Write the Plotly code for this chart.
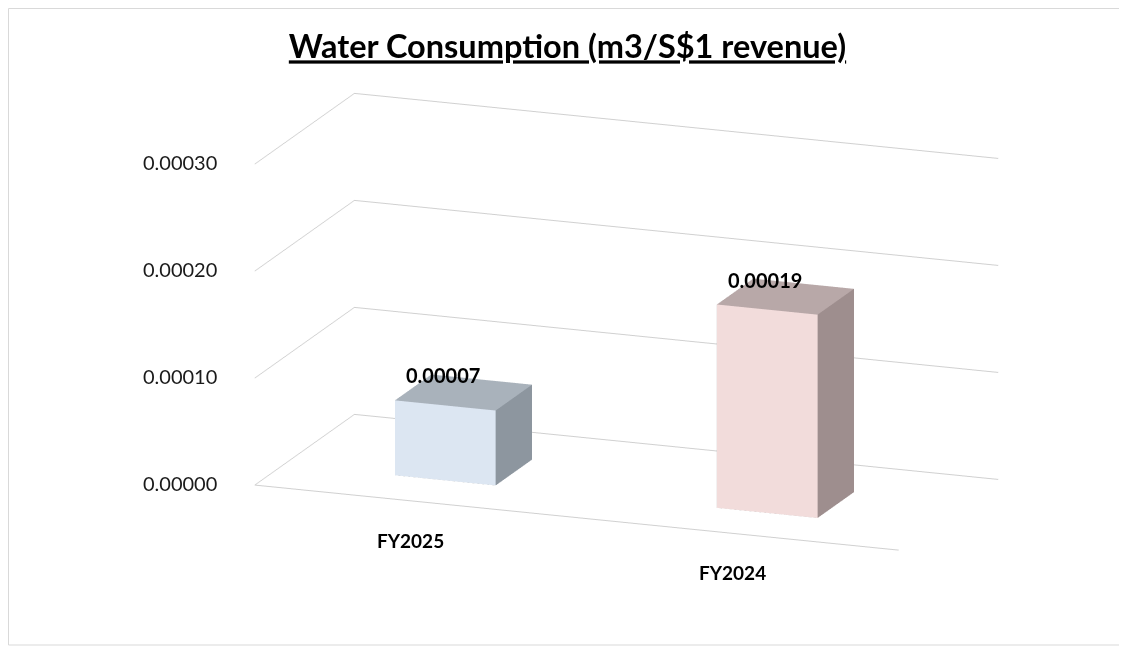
import plotly.graph_objects as go

# ---- data ----
categories = ["FY2025", "FY2024"]
values = [0.00007, 0.00019]
value_labels = ["0.00007", "0.00019"]
z_ticks = [0.0, 0.0001, 0.0002, 0.0003]
z_tick_labels = ["0.00000", "0.00010", "0.00020", "0.00030"]

# ---- style ----
front_colors = ["#DCE6F2", "#F2DCDB"]
top_colors = ["#A9B2BB", "#B8A8A8"]
side_colors = ["#8D969F", "#9E8E8E"]

# the page body keeps an 8px margin, so the figure is 16px smaller than the window
W, H = 1119, 640
X_RANGE = [-0.5, len(categories) - 0.5]
Y_RANGE = [0.0, 1.0]
Z_RANGE = [0.0, 0.0003]
BAR_HALF_WIDTH = 0.1563          # in category units
BAR_DEPTH = (0.2968, 0.6622)     # position of the bars along the depth axis
FONT = "Lato"


def box_mesh(x0, x1, yb0, yb1, z0, z1, cf, ct, cs):
    # faces: bottom, top, front, back, left, right (two triangles each)
    return go.Mesh3d(
        x=[x0, x1, x1, x0, x0, x1, x1, x0],
        y=[yb0, yb0, yb1, yb1, yb0, yb0, yb1, yb1],
        z=[z0, z0, z0, z0, z1, z1, z1, z1],
        i=[0, 0, 4, 4, 0, 0, 3, 3, 0, 0, 1, 1],
        j=[1, 2, 5, 6, 1, 5, 2, 6, 3, 7, 2, 6],
        k=[2, 3, 6, 7, 5, 4, 6, 7, 7, 4, 6, 5],
        facecolor=[cs, cs, ct, ct, cf, cf, cs, cs, cs, cs, cs, cs],
        flatshading=True, opacity=1.0,
        lighting=dict(ambient=1.0, diffuse=0.0, specular=0.0, roughness=1.0, fresnel=0.0),
        hoverinfo="skip", showscale=False)


fig = go.Figure()
for i, v in enumerate(values):
    fig.add_trace(box_mesh(i - BAR_HALF_WIDTH, i + BAR_HALF_WIDTH, BAR_DEPTH[0], BAR_DEPTH[1],
                           0.0, v, front_colors[i], top_colors[i], side_colors[i]))

ann = []
for i, v in enumerate(values):
    ann.append(dict(x=i, y=BAR_DEPTH[0], z=v, text="<b>%s</b>" % value_labels[i], showarrow=False,
                    font=dict(family=FONT, size=20, color="#000000"), yshift=30, xshift=-2))
    ann.append(dict(x=i, y=Y_RANGE[0], z=0, text="<b>%s</b>" % categories[i], showarrow=False,
                    font=dict(family=FONT, size=19, color="#000000"), yshift=-39, xshift=-5))
for zt, zl in zip(z_ticks, z_tick_labels):
    ann.append(dict(x=X_RANGE[0], y=Y_RANGE[0], z=zt, text=zl, showarrow=False, xanchor="right",
                    font=dict(family=FONT, size=20, color="#1a1a1a"), xshift=-36, yshift=2))

ax_common = dict(showspikes=False, showbackground=False, zeroline=False,
                 title=dict(text=""), ticks="", showticklabels=False)
fig.update_layout(
    width=W, height=H, margin=dict(l=0, r=0, t=0, b=0),
    paper_bgcolor="white", hovermode=False, showlegend=False,
    title=dict(text="<b><u>Water Consumption (m3/S$1 revenue)</u></b>", x=0.5, xanchor="center",
               y=1 - 39 / H, yanchor="middle", font=dict(family=FONT, size=32.5, color="#000000")),
    scene=dict(
        domain=dict(x=[0, 1], y=[0, 1]),
        xaxis=dict(range=X_RANGE, showgrid=False, showline=True,
                   linecolor="#D0D0D0", linewidth=2, **ax_common),
        yaxis=dict(range=Y_RANGE, showgrid=False, showline=False, **ax_common),
        zaxis=dict(range=Z_RANGE, tickvals=z_ticks, showgrid=True, gridcolor="#D0D0D0",
                   gridwidth=2, showline=False, **ax_common),
        aspectmode="manual", aspectratio=dict(x=2.15052, y=0.88176, z=1.04116),
        camera=dict(eye=dict(x=0.67965, y=-2.32359, z=0.65073),
                    center=dict(x=-0.17080, y=-0.07004, z=-0.01882),
                    up=dict(x=0, y=0, z=1), projection=dict(type="orthographic")),
        annotations=ann,
    ),
    shapes=[dict(type="rect", xref="paper", yref="paper", x0=0.5 / W, x1=1114 / W,
                 y0=1 - 637 / H, y1=1 - 0.5 / H, line=dict(color="#D9D9D9", width=1), layer="above")],
)
fig.write_html("out.html")
